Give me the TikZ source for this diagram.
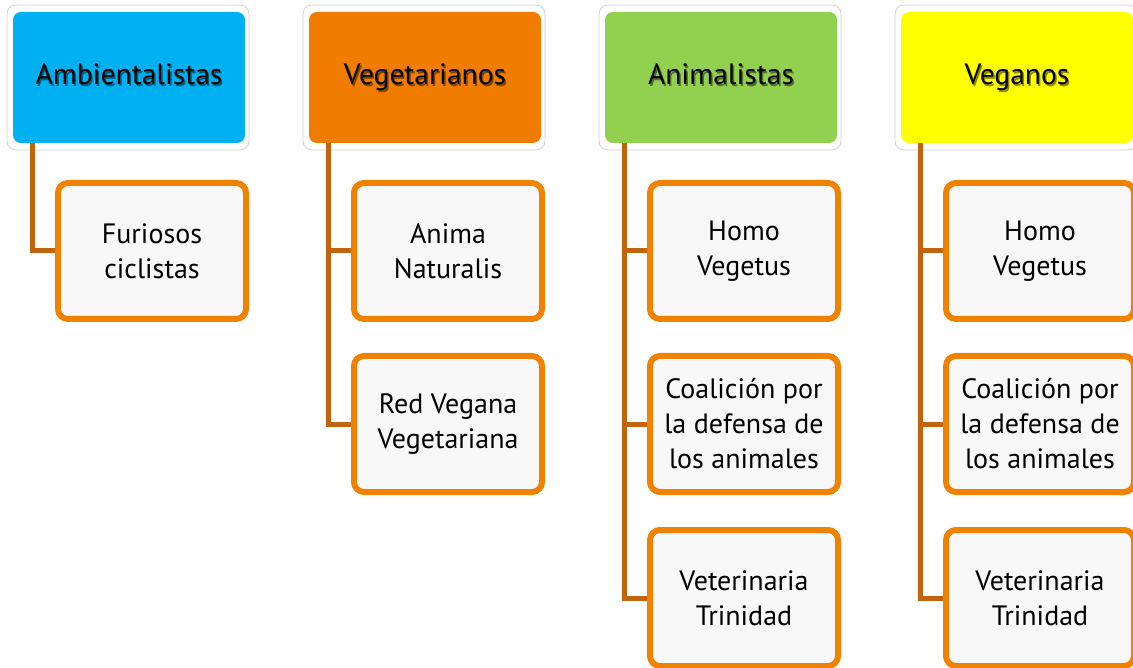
\documentclass[tikz,border=0pt]{standalone}
\usepackage{fontspec}
\setmainfont{PT Sans}
\usetikzlibrary{positioning}
\definecolor{azul}{HTML}{00B0F0}
\definecolor{naranjo}{HTML}{F07D00}
\definecolor{verde}{HTML}{92D050}
\definecolor{amarillo}{HTML}{FFFF00}
\definecolor{borde}{HTML}{F08200}
\definecolor{cafe}{HTML}{C2630E}
\definecolor{fondo}{HTML}{F8F8F8}
\tikzset{
  marco/.style={draw=black!18, fill=white, line width=0.8pt, rounded corners=9pt,
    minimum width=242pt, minimum height=145pt},
  grupo/.style={rounded corners=8pt, minimum width=232pt, minimum height=131pt},
  titulo/.style={anchor=base, font=\fontsize{29.5}{34}\selectfont},
  sombra/.style={titulo, text=black, opacity=0.45},
  miembro/.style={draw=borde, line width=6pt, fill=fondo, rounded corners=10pt,
    minimum width=188pt, minimum height=136pt, align=center,
    font=\fontsize{28}{35}\selectfont},
  enlace/.style={draw=cafe, line width=5pt}
}
\begin{document}
\begin{tikzpicture}[x=1pt,y=-1pt]
  \useasboundingbox (0,0) rectangle (1133,668);
  \clip (0,0) rectangle (1133,668);
  % cabeceras
  \foreach \i/\t/\c in {0/Ambientalistas/azul, 1/Vegetarianos/naranjo,
                        2/Animalistas/verde, 3/Veganos/amarillo}
  {
    \node[marco] (m\i) at (128+296*\i,77.5) {};
    \node[grupo, fill=\c] (h\i) at (129+296*\i,77.5) {};
    \node[sombra] (s\i) at (130.5+296*\i,87) {\t};
    \node[titulo] (t\i) at (129+296*\i,85) {\t};
  }
  % miembros
  \node[miembro] (a1) at (152,251) {Furiosos\\ciclistas};
  \node[miembro] (b1) at (448,251) {Anima\\Naturalis};
  \node[miembro] (b2) at (448,424) {Red Vegana\\Vegetariana};
  \node[miembro] (c1) at (744,251) {Homo\\Vegetus};
  \node[miembro] (c2) at (744,424) {Coalición por\\la defensa de\\los animales};
  \node[miembro] (c3) at (744,598) {Veterinaria\\Trinidad};
  \node[miembro] (d1) at (1040,251) {Homo\\Vegetus};
  \node[miembro] (d2) at (1040,424) {Coalición por\\la defensa de\\los animales};
  \node[miembro] (d3) at (1040,598) {Veterinaria\\Trinidad};
  % enlaces
  \draw[enlace] ([xshift=20pt]h0.south west) |- (a1.west);
  \draw[enlace] ([xshift=20pt]h1.south west) |- (b2.west);
  \draw[enlace] ([xshift=20pt]h1.south west) |- (b1.west);
  \draw[enlace] ([xshift=20pt]h2.south west) |- (c3.west);
  \draw[enlace] ([xshift=20pt]h2.south west) |- (c2.west);
  \draw[enlace] ([xshift=20pt]h2.south west) |- (c1.west);
  \draw[enlace] ([xshift=20pt]h3.south west) |- (d3.west);
  \draw[enlace] ([xshift=20pt]h3.south west) |- (d2.west);
  \draw[enlace] ([xshift=20pt]h3.south west) |- (d1.west);
\end{tikzpicture}
\end{document}
